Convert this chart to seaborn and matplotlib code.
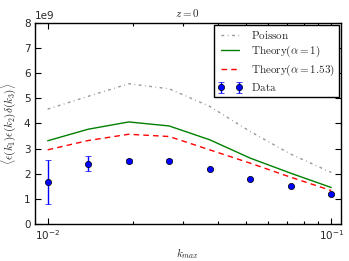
import numpy as np
import pandas as pd
import matplotlib
matplotlib.use("Agg")
import matplotlib.pyplot as plt
import matplotlib.ticker as mticker
import seaborn as sns

# k_max bins (log spaced between 1e-2 and 1e-1)
k_max = [0.01, 0.01389, 0.01931, 0.02683, 0.03728, 0.05179, 0.07197, 0.1]

# bispectrum values, in units of 1e9
poisson = [4.57, 5.08, 5.58, 5.38, 4.68, 3.68, 2.78, 2.05]
theory_a1 = [3.31, 3.77, 4.06, 3.90, 3.35, 2.62, 2.02, 1.45]
theory_a153 = [2.95, 3.32, 3.57, 3.48, 2.95, 2.42, 1.86, 1.33]
data_vals = [1.67, 2.40, 2.50, 2.52, 2.20, 1.80, 1.50, 1.19]
data_err = [0.86, 0.31, 0.08, 0.05, 0.04, 0.03, 0.03, 0.03]

scale = 1e9

df = pd.DataFrame({
    'k': k_max,
    'poisson': np.array(poisson) * scale,
    'a1': np.array(theory_a1) * scale,
    'a153': np.array(theory_a153) * scale,
    'data': np.array(data_vals) * scale,
    'err': np.array(data_err) * scale,
})

sns.set_style('ticks', {'xtick.direction': 'in', 'ytick.direction': 'in',
                        'axes.edgecolor': 'black'})
plt.rcParams['font.family'] = ['DejaVu Sans']
plt.rcParams['mathtext.fontset'] = 'cm'
plt.rcParams['axes.formatter.use_mathtext'] = False

fig = plt.figure(figsize=(3.49, 2.61), dpi=100, facecolor='white')
ax = fig.add_axes([0.0994, 0.142, 0.8768, 0.770])
ax.set_facecolor('white')

sns.lineplot(data=df, x='k', y='poisson', ax=ax, color='#999999',
             linestyle=(0, (2, 2.5, 0.6, 2.5)),
             linewidth=1.0, label=r'$\mathrm{Poisson}$')
sns.lineplot(data=df, x='k', y='a1', ax=ax, color='green', linestyle='-',
             linewidth=1.0, label=r'$\mathrm{Theory}(\alpha=1)$')
sns.lineplot(data=df, x='k', y='a153', ax=ax, color='red', linestyle=(0, (4, 3)),
             linewidth=1.0, label=r'$\mathrm{Theory}(\alpha=1.53)$')
ax.errorbar(df['k'], df['data'], yerr=df['err'], fmt='o', color='blue',
            ecolor='blue', markersize=4.5, capsize=2.5, elinewidth=1.0,
            markeredgecolor='black', markeredgewidth=0.5, label=r'$\mathrm{Data}$')

ax.set_xscale('log')
ax.set_xlim(0.009, 0.108)
ax.xaxis.set_major_locator(mticker.LogLocator(base=10))
ax.xaxis.set_minor_locator(mticker.LogLocator(base=10, subs=np.arange(2, 10), numticks=20))
ax.xaxis.set_minor_formatter(mticker.NullFormatter())
ax.set_ylim(0, 8e9)
ax.set_yticks(np.arange(0, 9) * 1e9)

ax.tick_params(which='both', direction='in', top=True, right=True,
               labelsize=7.5, color='black')
ax.tick_params(which='major', length=4, width=0.8, pad=3)
ax.tick_params(axis='x', which='minor', length=2.5, width=0.8,
               bottom=True, top=True)
ax.yaxis.get_offset_text().set_fontsize(7.5)

for sp in ax.spines.values():
    sp.set_linewidth(1.0)
    sp.set_color('black')
    sp.set_visible(True)

ax.set_title(r'$z=0$', fontsize=8, pad=4)
ax.set_xlabel(r'$k_{max}$', fontsize=8, labelpad=3)
ax.set_ylabel(r'$\langle\epsilon(k_1)\epsilon(k_2)\delta(k_3)\rangle$', fontsize=8, labelpad=4)

leg = ax.legend(loc='upper right', fontsize=8, numpoints=2, frameon=True,
                fancybox=False, borderaxespad=0.15, handlelength=2.2,
                labelspacing=0.3, borderpad=0.35, framealpha=1.0)
leg.get_frame().set_edgecolor('black')
leg.get_frame().set_linewidth(1.0)

fig.savefig('out.png', dpi=100, facecolor='white')
